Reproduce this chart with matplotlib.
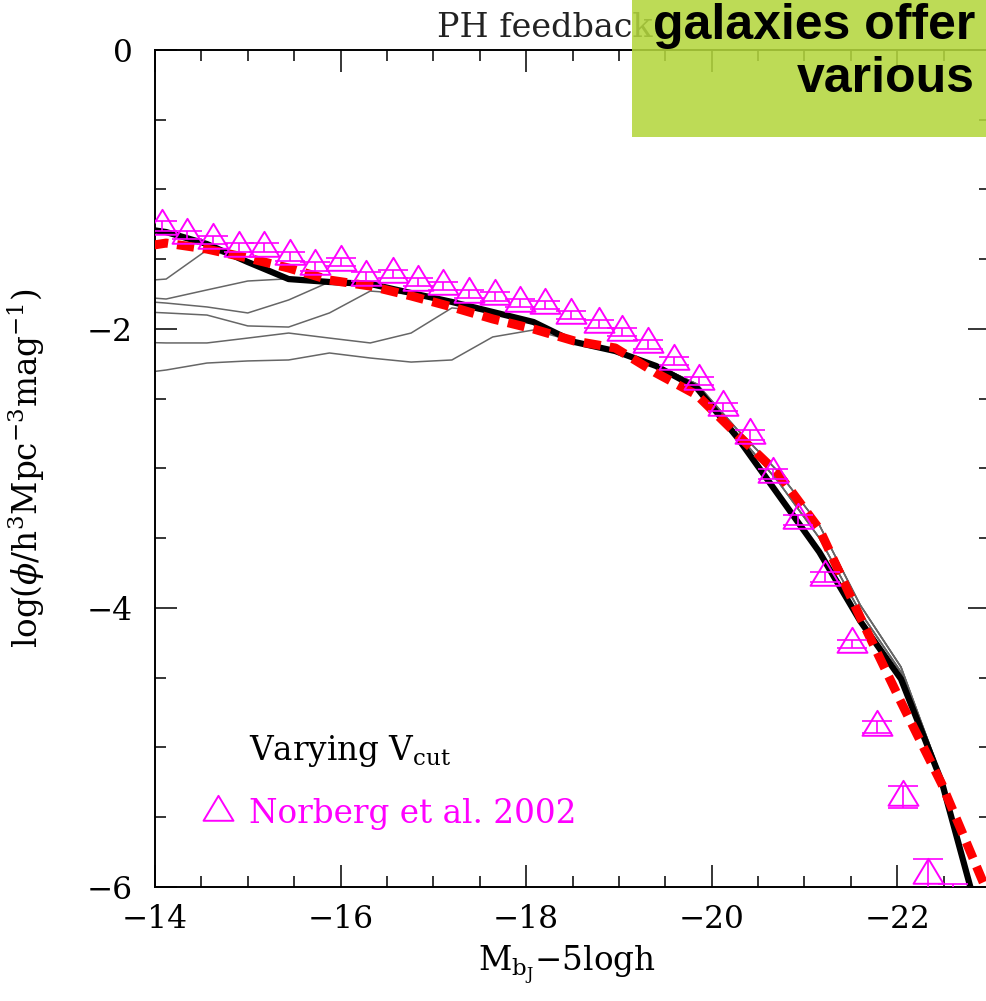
import matplotlib
matplotlib.use('Agg')
import matplotlib.pyplot as plt
from matplotlib.lines import Line2D
from matplotlib.patches import Rectangle
from matplotlib.path import Path
from matplotlib.ticker import MultipleLocator

# ---------------- data ----------------
# model magnitude grid (M_bJ - 5 log h)
mag_model = [-13.68, -14.12, -14.56, -15.00, -15.44, -15.88, -16.32, -16.76, -17.20,
             -17.64, -18.08, -18.52, -18.96, -19.40, -19.84, -20.28, -20.72, -21.16,
             -21.60, -22.04, -22.48, -22.92, -23.36]

# fiducial model (thick black)
phi_fiducial = [-1.262, -1.305, -1.391, -1.520, -1.642, -1.663, -1.677, -1.742, -1.806,
                -1.878, -1.950, -2.093, -2.158, -2.265, -2.423, -2.781, -3.190, -3.599,
                -4.093, -4.509, -5.247, -6.323, -7.384]

# red dashed model
phi_red = [-1.430, -1.384, -1.427, -1.491, -1.563, -1.649, -1.692, -1.763, -1.842,
           -1.928, -2.000, -2.086, -2.136, -2.315, -2.473, -2.760, -3.039, -3.434,
           -4.065, -4.674, -5.262, -5.957, -6.595]

# converged bright-end tracks of the varying-Vcut models
vcut_track_a = [-1.262, -1.305, -1.398, -1.505, -1.634, -1.663, -1.685, -1.742, -1.806,
                -1.878, -1.950, -2.086, -2.151, -2.258, -2.394, -2.724, -3.025, -3.405,
                -3.978, -4.423, -5.219, -6.294, -7.348]
vcut_track_b = [-1.270, -1.310, -1.400, -1.510, -1.640, -1.670, -1.690, -1.750, -1.810,
                -1.885, -1.955, -2.090, -2.155, -2.262, -2.416, -2.753, -3.097, -3.498,
                -4.029, -4.459, -5.233, -6.308, -7.369]

# faint-end parts of the varying-Vcut models (before they join the tracks)
vcut_faint_1 = [-1.663, -1.642, -1.434]
vcut_faint_2 = [-1.763, -1.785, -1.720, -1.656]
vcut_faint_3 = [-1.792, -1.814, -1.842, -1.885, -1.792]
vcut_faint_4 = [-1.871, -1.885, -1.900, -1.978, -1.986, -1.885, -1.728]
vcut_faint_5 = [-2.093, -2.100, -2.100, -2.065, -2.029, -2.065, -2.100, -2.029, -1.849]
vcut_faint_6 = [-2.330, -2.294, -2.244, -2.229, -2.222, -2.172, -2.208, -2.237, -2.222,
                -2.057, -2.007]

# Norberg et al. 2002 data
mag_obs = [-14.08, -14.35, -14.63, -14.90, -15.18, -15.46, -15.72, -16.00, -16.27,
           -16.56, -16.83, -17.10, -17.38, -17.66, -17.93, -18.20, -18.48, -18.78,
           -19.03, -19.31, -19.59, -19.86, -20.12, -20.41, -20.66, -20.93, -21.22,
           -21.51, -21.78, -22.06, -22.33, -22.60]
phi_obs = [-1.264, -1.328, -1.360, -1.417, -1.417, -1.479, -1.551, -1.520, -1.624,
           -1.608, -1.663, -1.694, -1.747, -1.766, -1.814, -1.830, -1.900, -1.962,
           -2.022, -2.110, -2.229, -2.373, -2.559, -2.762, -3.037, -3.371, -3.778,
           -4.256, -4.853, -5.355, -5.916, -6.350]
err_obs = [0.035, 0.03, 0.03, 0.03, 0.03, 0.03, 0.03, 0.03, 0.03, 0.03, 0.03, 0.03,
           0.03, 0.03, 0.03, 0.03, 0.03, 0.03, 0.03, 0.03, 0.03, 0.03, 0.03, 0.035,
           0.035, 0.035, 0.035, 0.03, 0.045, 0.08, 0.12, 0.37]

x_ticks = [-14, -16, -18, -20, -22]
y_ticks = [0, -2, -4, -6]

# ---------------- plotting ----------------
plt.rcParams['font.family'] = 'DejaVu Serif'
plt.rcParams['mathtext.fontset'] = 'dejavuserif'

MAG = '#ff00ff'
fig = plt.figure(figsize=(9.86, 10.01), dpi=100)
ax = fig.add_axes([0.1572, 0.11389, 0.8469, 0.83616])

vcut_lines = [
    (vcut_faint_1, vcut_track_a),
    (vcut_faint_2, vcut_track_b),
    (vcut_faint_3, vcut_track_a),
    (vcut_faint_4, vcut_track_b),
    (vcut_faint_5, vcut_track_a),
    (vcut_faint_6, vcut_track_b),
]
for faint, track in vcut_lines:
    ys = list(faint) + list(track[len(faint):])
    ax.plot(mag_model, ys, color='#666666', lw=1.1, zorder=2)

ax.plot(mag_model, phi_fiducial, color='black', lw=4.5, zorder=3,
        solid_joinstyle='round')
ax.plot(mag_model, phi_red, color='#ff0000', lw=6.5, dashes=(1.9, 1.0), zorder=4)

tri = Path([(0, 16.7), (-15, -8.3), (15, -8.3), (0, 16.7)], closed=True)
ax.errorbar(mag_obs, phi_obs, yerr=err_obs, fmt='none', ecolor=MAG,
            elinewidth=1.2, capsize=11, capthick=1.2, zorder=5)
ax.plot(mag_obs, phi_obs, ls='none', marker=tri, ms=24, mfc='none', mec=MAG,
        mew=1.4, zorder=6)

ax.set_xlim(-14, -23)
ax.set_ylim(-6, 0)
ax.set_xticks(x_ticks)
ax.set_yticks(y_ticks)
ax.xaxis.set_minor_locator(MultipleLocator(0.5))
ax.yaxis.set_minor_locator(MultipleLocator(0.5))
ax.tick_params(which='both', direction='in', top=True, right=True, width=1.1,
               colors='black')
ax.tick_params(which='major', length=16, labelsize=22.5)
ax.tick_params(which='minor', length=8)
ax.tick_params(axis='x', pad=12)
ax.tick_params(axis='y', pad=16)
for sp in ax.spines.values():
    sp.set_linewidth(1.4)

ax.set_xlabel(r'$\mathrm{M_{b_J}{-}5logh}$', fontsize=23.5)
ax.xaxis.set_label_coords(0.493, -0.067)
ax.set_ylabel(r'$\log(\phi/\mathrm{h^3Mpc^{-3}mag^{-1}})$', fontsize=23.5)
ax.yaxis.set_label_coords(-0.129, 0.5)

h_empty = Line2D([], [], ls='none')
h_tri = Line2D([], [], ls='none', marker=tri, ms=24, mfc='none', mec=MAG, mew=1.4)
ax.legend([h_empty, h_tri], [r'Varying V$_{\mathrm{cut}}$', 'Norberg et al. 2002'],
          loc='lower left', bbox_to_anchor=(0.055, 0.068), frameon=False,
          handlelength=1.06, handletextpad=0.4, borderpad=0, borderaxespad=0,
          labelspacing=0.9, labelcolor=['black', MAG],
          prop={'family': 'DejaVu Serif', 'size': 23.5})

fig.text(545 / 986, 1 - 37 / 1001, 'PH feedback', ha='center', va='baseline',
         fontsize=24, color='#222222', family='DejaVu Serif')

box = Rectangle((632 / 986, 1 - 137 / 1001), 0.4, 0.2, transform=fig.transFigure,
                facecolor='#b3d63d', edgecolor='none', alpha=0.87, zorder=10)
fig.add_artist(box)
fig.text(975 / 986, 1 - 39 / 1001, 'galaxies offer', ha='right', va='baseline',
         fontsize=36, fontweight='bold', family='Liberation Sans', color='black',
         zorder=11)
fig.text(975 / 986, 1 - 92 / 1001, 'various', ha='right', va='baseline',
         fontsize=36, fontweight='bold', family='Liberation Sans', color='black',
         zorder=11)

fig.savefig('out.png', dpi=100)
